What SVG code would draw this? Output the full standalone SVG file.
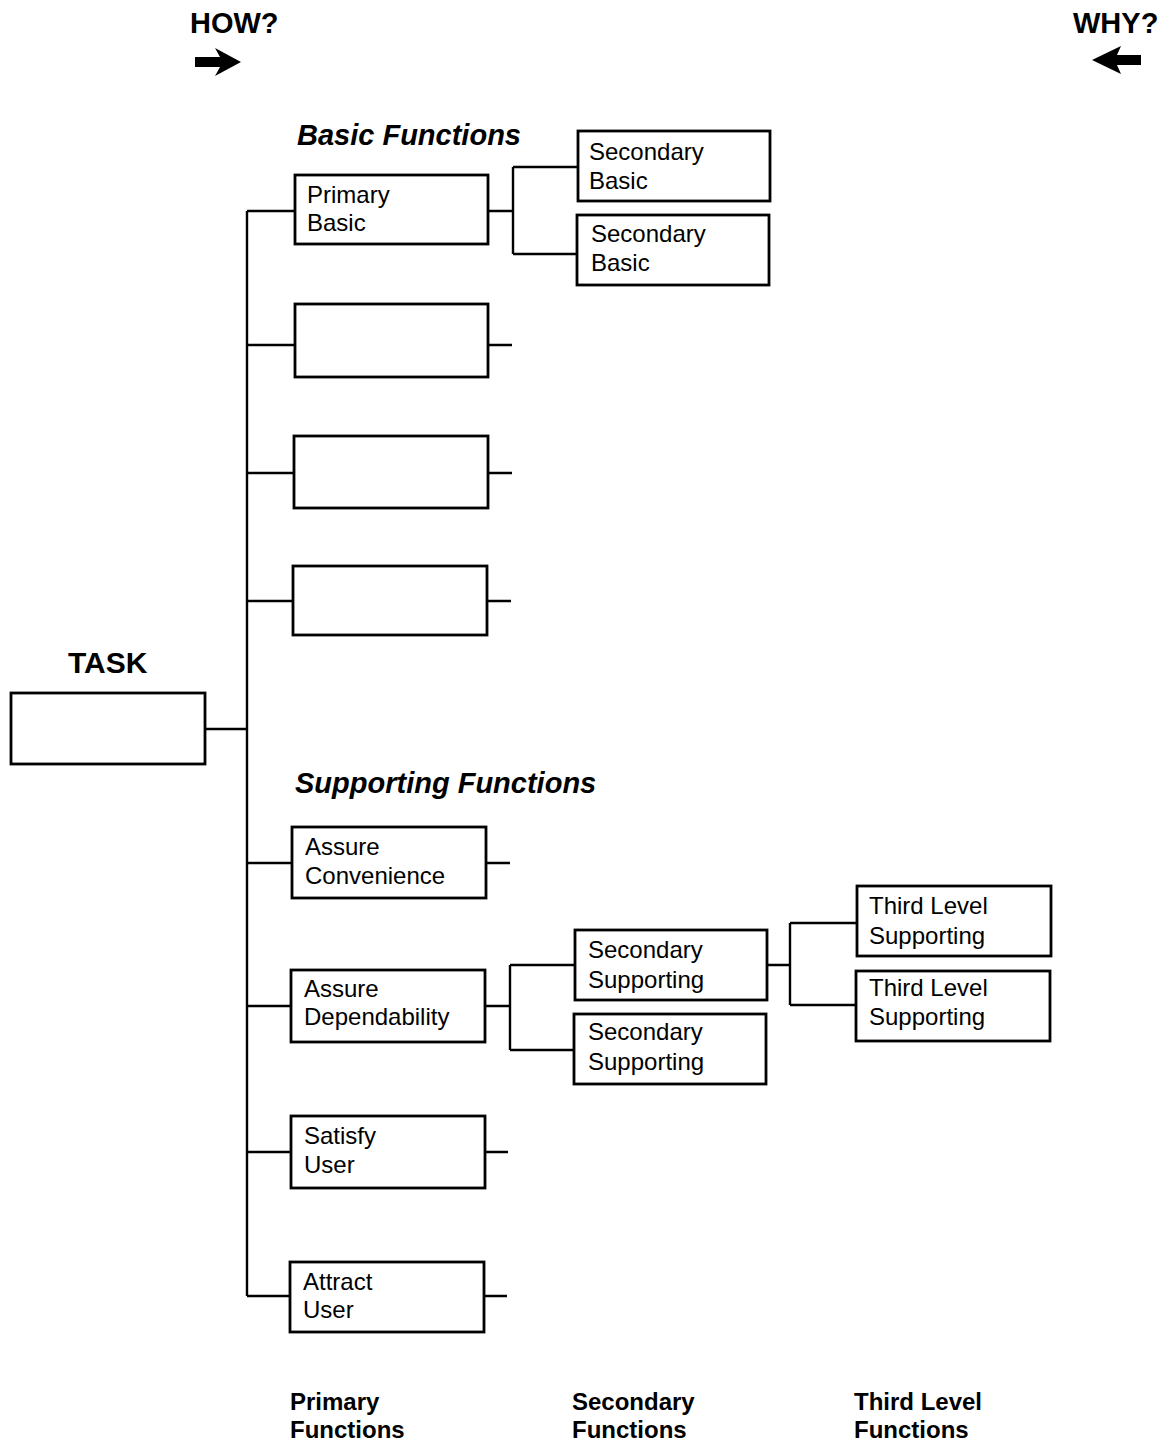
<svg xmlns="http://www.w3.org/2000/svg" width="1165" height="1447" viewBox="0 0 1165 1447">
<style>
.box{fill:#fff;stroke:#000;stroke-width:2.8}
.t{font-family:"Liberation Sans",Arial,sans-serif;font-size:24px;fill:#000}
.h{font-family:"Liberation Sans",Arial,sans-serif;font-size:29px;font-weight:bold;fill:#000}
.hi{font-family:"Liberation Sans",Arial,sans-serif;font-size:29px;font-weight:bold;font-style:italic;fill:#000}
.f{font-family:"Liberation Sans",Arial,sans-serif;font-size:24px;font-weight:bold;fill:#000}
#connectors path{fill:none;stroke:#000;stroke-width:2.4}
</style>
<rect width="1165" height="1447" fill="#fff"/>
<g id="how">
<text class="h" x="190" y="33">HOW?</text>
<polygon points="195,57 220,57 215,48 241,62 215,76 220,67 195,67" fill="#000"/>
</g>
<g id="why">
<text class="h" x="1073" y="33">WHY?</text>
<polygon points="1141,55 1117,55 1121,46 1092,60 1121,74 1117,65 1141,65" fill="#000"/>
</g>
<text class="hi" x="297" y="145">Basic Functions</text>
<text class="hi" x="295" y="793">Supporting Functions</text>
<text class="h" x="68" y="673" style="font-size:30px">TASK</text>
<g id="connectors">
<path d="M247,211 V1296"/>
<path d="M205,729 H247"/>
<path d="M247,211 H295 M488,211 H513 M513,167 V254 M513,167 H578 M513,254 H577"/>
<path d="M247,345 H295 M488,345 H512"/>
<path d="M247,473 H294 M488,473 H512"/>
<path d="M247,601 H293 M487,601 H511"/>
<path d="M247,863 H292 M486,863 H510"/>
<path d="M247,1006 H291 M485,1006 H510 M510,965 V1050 M510,965 H575 M510,1050 H574"/>
<path d="M767,965 H790 M790,923 V1005 M790,923 H857 M790,1005 H856"/>
<path d="M247,1152 H291 M485,1152 H508"/>
<path d="M247,1296 H290 M484,1296 H507"/>
</g>
<g id="task"><rect class="box" x="11" y="693" width="194" height="71"/></g>
<g id="primary-basic"><rect class="box" x="295" y="175" width="193" height="69"/><text class="t" x="307" y="203">Primary</text><text class="t" x="307" y="231">Basic</text></g>
<g id="secondary-basic-1"><rect class="box" x="578" y="131" width="192" height="70"/><text class="t" x="589" y="160">Secondary</text><text class="t" x="589" y="189">Basic</text></g>
<g id="secondary-basic-2"><rect class="box" x="577" y="215" width="192" height="70"/><text class="t" x="591" y="242">Secondary</text><text class="t" x="591" y="271">Basic</text></g>
<g id="empty-1"><rect class="box" x="295" y="304" width="193" height="73"/></g>
<g id="empty-2"><rect class="box" x="294" y="436" width="194" height="72"/></g>
<g id="empty-3"><rect class="box" x="293" y="566" width="194" height="69"/></g>
<g id="assure-convenience"><rect class="box" x="292" y="827" width="194" height="71"/><text class="t" x="305" y="855">Assure</text><text class="t" x="305" y="884">Convenience</text></g>
<g id="assure-dependability"><rect class="box" x="291" y="970" width="194" height="72"/><text class="t" x="304" y="997">Assure</text><text class="t" x="304" y="1025">Dependability</text></g>
<g id="secondary-supporting-1"><rect class="box" x="575" y="930" width="192" height="70"/><text class="t" x="588" y="958">Secondary</text><text class="t" x="588" y="988">Supporting</text></g>
<g id="secondary-supporting-2"><rect class="box" x="574" y="1014" width="192" height="70"/><text class="t" x="588" y="1040">Secondary</text><text class="t" x="588" y="1070">Supporting</text></g>
<g id="third-level-1"><rect class="box" x="857" y="886" width="194" height="70"/><text class="t" x="869" y="914">Third Level</text><text class="t" x="869" y="944">Supporting</text></g>
<g id="third-level-2"><rect class="box" x="856" y="971" width="194" height="70"/><text class="t" x="869" y="996">Third Level</text><text class="t" x="869" y="1025">Supporting</text></g>
<g id="satisfy-user"><rect class="box" x="291" y="1116" width="194" height="72"/><text class="t" x="304" y="1144">Satisfy</text><text class="t" x="304" y="1173">User</text></g>
<g id="attract-user"><rect class="box" x="290" y="1262" width="194" height="70"/><text class="t" x="303" y="1290">Attract</text><text class="t" x="303" y="1318">User</text></g>
<g id="labels">
<text class="f" x="290" y="1410">Primary</text><text class="f" x="290" y="1438">Functions</text>
<text class="f" x="572" y="1410">Secondary</text><text class="f" x="572" y="1438">Functions</text>
<text class="f" x="854" y="1410">Third Level</text><text class="f" x="854" y="1438">Functions</text>
</g>
</svg>
